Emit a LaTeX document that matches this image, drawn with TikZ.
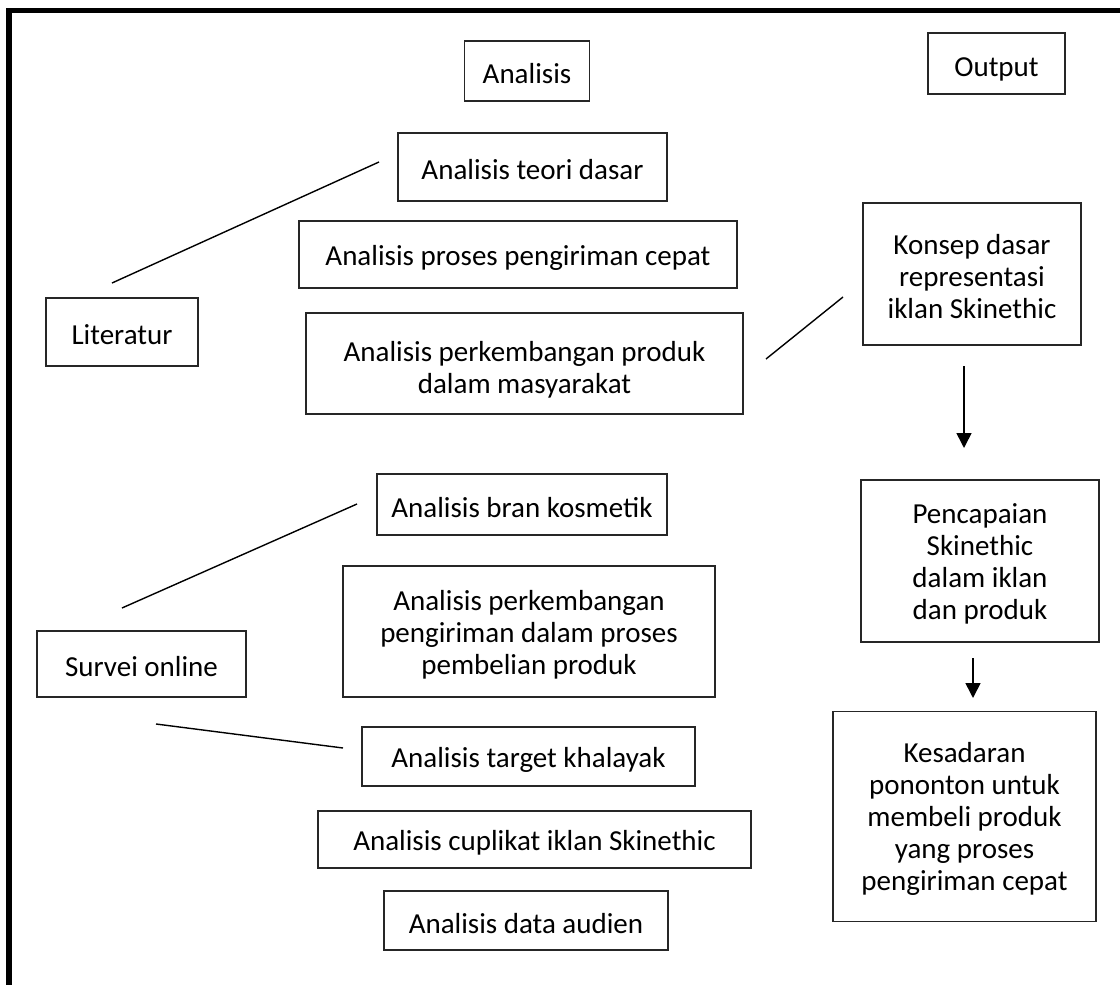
\documentclass[tikz,border=0pt]{standalone}
\usepackage{fontspec}
\setmainfont{Carlito}
\usetikzlibrary{arrows.meta}
\begin{document}
\begin{tikzpicture}[x=1pt,y=-1pt,
  box/.style={draw=black!85, line width=1.3pt, inner sep=0pt},
  txt/.style={align=center, inner sep=0pt, font=\fontsize{29}{32}\selectfont},
  conn/.style={line width=1.4pt},
  arr/.style={line width=1.6pt, -{Triangle[width=15pt,length=15pt]}}]
\useasboundingbox (0,0) rectangle (1120,985);
\draw[line width=5.5pt] (9,995) -- (9,10.5) -- (1130,10.5);
% header boxes
\node[box, minimum width=125pt, minimum height=60pt] (ana) at (527,71) {};
\node[txt] (anaT) at ([yshift=-3pt]ana.center) {Analisis};
\node[box, minimum width=137pt, minimum height=61pt] (out) at (996.5,63.5) {};
\node[txt] (outT) at ([yshift=-6pt]out.center) {Output};
% analysis boxes
\node[box, minimum width=269pt, minimum height=68pt] (teori) at (532.5,167) {};
\node[txt] (teoriT) at ([yshift=-3pt]teori.center) {Analisis teori dasar};
\node[box, minimum width=438pt, minimum height=67pt] (proses) at (518,254.5) {};
\node[txt] (prosesT) at ([yshift=-3pt]proses.center) {Analisis proses pengiriman cepat};
\node[box, minimum width=437pt, minimum height=101pt] (perk) at (524.5,363.5) {};
\node[txt] (perkT) at ([yshift=-6pt]perk.center) {Analisis perkembangan produk\\dalam masyarakat};
\node[box, minimum width=290pt, minimum height=61pt] (bran) at (522,504.5) {};
\node[txt] (branT) at ([yshift=-3pt]bran.center) {Analisis bran kosmetik};
\node[box, minimum width=372pt, minimum height=131pt] (peng) at (529,631.5) {};
\node[txt] (pengT) at ([yshift=-3pt]peng.center) {Analisis perkembangan\\pengiriman dalam proses\\pembelian produk};
\node[box, minimum width=333pt, minimum height=59pt] (target) at (528.5,756.5) {};
\node[txt] (targetT) at ([yshift=-3pt]target.center) {Analisis target khalayak};
\node[box, minimum width=433pt, minimum height=57pt] (cup) at (534.5,839.5) {};
\node[txt] (cupT) at ([yshift=-3pt]cup.center) {Analisis cuplikat iklan Skinethic};
\node[box, minimum width=284pt, minimum height=59pt] (data) at (526,920.5) {};
\node[txt] (dataT) at ([yshift=-3pt]data.center) {Analisis data audien};
% sources
\node[box, minimum width=152pt, minimum height=68pt] (lit) at (122,332) {};
\node[txt] (litT) at ([yshift=-3pt]lit.center) {Literatur};
\node[box, minimum width=209pt, minimum height=66pt] (surv) at (141.5,664) {};
\node[txt] (survT) at ([yshift=-3pt]surv.center) {Survei online};
% outputs
\node[box, minimum width=218pt, minimum height=142pt] (konsep) at (972,274) {};
\node[txt] (konsepT) at ([yshift=-3pt]konsep.center) {Konsep dasar\\representasi\\iklan Skinethic};
\node[box, minimum width=238pt, minimum height=162pt] (penc) at (980,561) {};
\node[txt] (pencT) at ([yshift=-3pt]penc.center) {Pencapaian\\Skinethic\\dalam iklan\\dan produk};
\node[box, minimum width=263pt, minimum height=210pt] (kes) at (964.5,816.5) {};
\node[txt] (kesT) at ([yshift=-2pt]kes.center) {Kesadaran\\pononton untuk\\membeli produk\\yang proses\\pengiriman cepat};
% free connector ends
\coordinate (l1a) at (112,283);
\coordinate (l1b) at (379,162);
\coordinate (l2a) at (122,608);
\coordinate (l2b) at (357,504);
\coordinate (l3a) at (156,724);
\coordinate (l3b) at (343,748);
\coordinate (l4a) at (766,359);
\coordinate (l4b) at (843,297);
\coordinate (a1s) at (964,366);
\coordinate (a1e) at (964,448);
\coordinate (a2s) at (973,658);
\coordinate (a2e) at (973,698);
\draw[conn] (l1a) -- (l1b);
\draw[conn] (l2a) -- (l2b);
\draw[conn] (l3a) -- (l3b);
\draw[conn] (l4a) -- (l4b);
\draw[arr] (a1s) -- (a1e);
\draw[arr] (a2s) -- (a2e);
\end{tikzpicture}
\end{document}
